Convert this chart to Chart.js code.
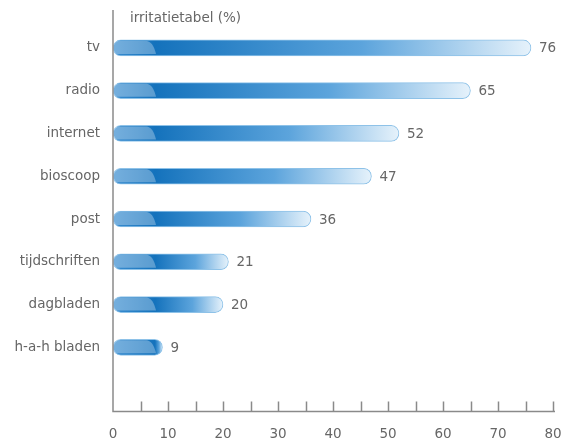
<!DOCTYPE html>
<html>
<head>
<meta charset="utf-8">
<script src="https://cdn.jsdelivr.net/npm/chart.js@4"></script>
<style>
  html, body { margin: 0; padding: 0; background: #fff; }
  #wrap { width: 570px; height: 442px; }
</style>
</head>
<body>
<div id="wrap"><canvas id="irritatieChart"></canvas></div>
<script>
// irritatietabel per medium
const media = ['tv', 'radio', 'internet', 'bioscoop', 'post', 'tijdschriften', 'dagbladen', 'h-a-h bladen', ''];
const scores = [76, 65, 52, 47, 36, 21, 20, 9, null];
const xTicks = [0, 10, 20, 30, 40, 50, 60, 70, 80];
const chartTitle = 'irritatietabel (%)';

const textColor = '#666666';
const axisColor = '#8a8a8a';
const fontFamily = '"DejaVu Sans", sans-serif';

function barGradient(context) {
  const chart = context.chart;
  if (!chart.chartArea) return '#1a78c2';
  const x = chart.scales.x;
  const x0 = x.getPixelForValue(0);
  const x1 = x.getPixelForValue(context.raw || 1);
  const len = Math.max(x1 - x0, 1);
  const darkAt = Math.min(42 / len, 0.85);
  const g = chart.ctx.createLinearGradient(x0, 0, x1, 0);
  g.addColorStop(0, '#3a8dd0');
  g.addColorStop(darkAt, '#1472bc');
  g.addColorStop(Math.min(darkAt + (1 - darkAt) * 0.55, 0.95), '#5ca4dc');
  g.addColorStop(1, '#e6f2fb');
  return g;
}

// glossy cap at the start of every bar, value labels, title and axis ticks
const decorations = {
  id: 'decorations',
  afterDatasetsDraw(chart) {
    const ctx = chart.ctx;
    const meta = chart.getDatasetMeta(0);
    const xs = chart.scales.x;
    meta.data.forEach((bar, i) => {
      if (scores[i] == null) return;
      const p = bar.getProps(['x', 'y', 'base', 'height'], true);
      const top = p.y - p.height / 2;
      const bottom = p.y + p.height / 2;
      const left = p.base;
      const right = p.x;
      const r = p.height / 2;

      ctx.save();
      ctx.beginPath();
      ctx.roundRect(left, top, right - left, p.height, r);
      ctx.clip();
      const w = Math.min(34, right - left - 10);
      ctx.beginPath();
      ctx.moveTo(left, top + 1);
      ctx.lineTo(left + w, top + 1);
      ctx.bezierCurveTo(left + w + 6, top + 2, left + w + 8, bottom - 6, left + w + 9, bottom - 2);
      ctx.lineTo(left, bottom - 2);
      ctx.closePath();
      ctx.fillStyle = 'rgba(255,255,255,0.3)';
      ctx.fill();
      ctx.restore();

      ctx.save();
      ctx.font = '13.5px ' + fontFamily;
      ctx.fillStyle = textColor;
      ctx.textAlign = 'left';
      ctx.textBaseline = 'middle';
      ctx.fillText(String(scores[i]), right + 8, p.y + 1);
      ctx.restore();
    });

    const area = chart.chartArea;
    ctx.save();
    ctx.strokeStyle = axisColor;
    ctx.lineWidth = 1.5;
    ctx.beginPath();
    ctx.moveTo(area.left, 10);
    ctx.lineTo(area.left, area.bottom);
    ctx.lineTo(area.right + 2, area.bottom);
    for (let v = 5; v <= 80; v += 5) {
      const px = Math.round(xs.getPixelForValue(v)) + 0.5;
      ctx.moveTo(px, area.bottom);
      ctx.lineTo(px, area.bottom - 10);
    }
    ctx.stroke();

    ctx.font = '13.5px ' + fontFamily;
    ctx.fillStyle = textColor;
    ctx.textAlign = 'left';
    ctx.textBaseline = 'middle';
    ctx.fillText(chartTitle, 130, 18);
    ctx.restore();
  }
};

const ctx = document.getElementById('irritatieChart').getContext('2d');

new Chart(ctx, {
  type: 'bar',
  data: {
    labels: media,
    datasets: [{
      label: chartTitle,
      data: scores,
      backgroundColor: barGradient,
      borderColor: '#8ec2e8',
      borderWidth: 1,
      borderSkipped: false,
      borderRadius: 8,
      barThickness: 16
    }]
  },
  options: {
    indexAxis: 'y',
    responsive: true,
    maintainAspectRatio: false,
    animation: false,
    layout: { padding: { top: 26.5, right: 17, left: 0, bottom: 0 } },
    plugins: {
      legend: { display: false },
      tooltip: { enabled: false }
    },
    scales: {
      x: {
        min: 0,
        max: 80,
        afterBuildTicks(scale) {
          scale.ticks = xTicks.map(v => ({ value: v }));
        },
        afterFit(scale) {
          scale.height = 30.5;
          scale.paddingLeft = 0;
          scale.paddingRight = 0;
        },
        grid: { display: false, drawTicks: false },
        border: { display: false },
        ticks: {
          color: textColor,
          padding: 15,
          font: { family: fontFamily, size: 13.5 }
        }
      },
      y: {
        afterFit(scale) { scale.width = 113; },
        grid: { display: false, drawTicks: false },
        border: { display: false },
        ticks: {
          color: textColor,
          padding: 13,
          font: { family: fontFamily, size: 13.5 }
        }
      }
    }
  },
  plugins: [decorations]
});
</script>
</body>
</html>
